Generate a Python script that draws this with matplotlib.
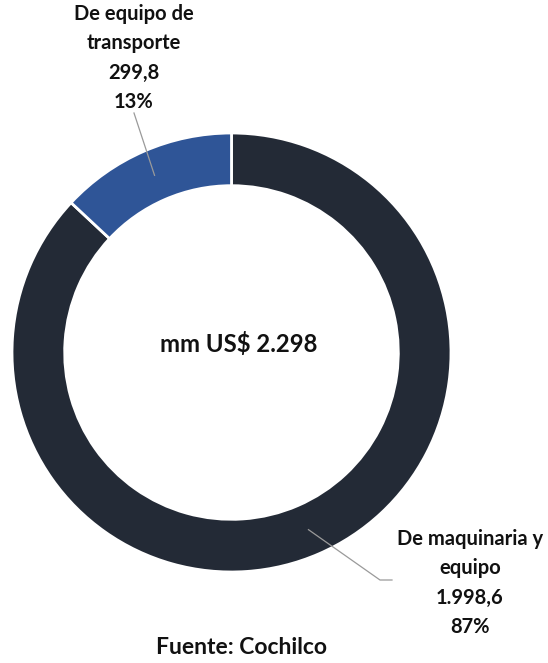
import numpy as np
import matplotlib
matplotlib.use('Agg')
import matplotlib.pyplot as plt

# Data
categories = ['De maquinaria y\nequipo', 'De equipo de\ntransporte']
values = [1998.6, 299.8]
value_labels = ['1.998,6', '299,8']
pct_labels = ['87%', '13%']
total_label = 'mm US$ 2.298'
source = 'Fuente: Cochilco'

COLORS = ['#232a36', '#2f5597']
FONT = ['Lato', 'DejaVu Sans']
W, H = 548, 663
CX, CY, R = 231.5, 352.5, 219.5  # donut centre / radius in pixels


def px_to_data(px, py):
    return (px - CX) / R, (CY - py) / R


fig = plt.figure(figsize=(W / 100, H / 100), dpi=100)
ax = fig.add_axes([(CX - R) / W, (H - CY - R) / H, 2 * R / W, 2 * R / H])

ring = 0.24
wedges, _ = ax.pie(values, colors=COLORS, startangle=90, counterclock=False,
                   radius=1, wedgeprops=dict(width=ring, edgecolor='white', linewidth=2))
# pie resets the limits, so set them afterwards
ax.set_xlim(-1, 1)
ax.set_ylim(-1, 1)
ax.axis('off')

# leader lines from the middle of each wedge
mid_r = 1 - ring / 2
anchors = []
for w in wedges:
    ang = np.deg2rad((w.theta1 + w.theta2) / 2)
    anchors.append((mid_r * np.cos(ang), mid_r * np.sin(ang)))

line_kw = dict(color='#9a9a9a', linewidth=0.9)
label_kw = dict(ha='center', va='center', fontsize=14.5, fontweight='bold', family=FONT,
                linespacing=1.6, color='#111111')

# maquinaria
x0, y0 = anchors[0]
ex, ey = px_to_data(380, 580)
fx, fy = px_to_data(392, 580)
ax.plot([x0, ex, fx], [y0, ey, fy], clip_on=False, **line_kw)
tx, ty = px_to_data(470, 583)
ax.text(tx, ty, f'{categories[0]}\n{value_labels[0]}\n{pct_labels[0]}', **label_kw)

# transporte
x1, y1 = anchors[1]
ex, ey = px_to_data(134, 113)
ax.plot([x1, ex], [y1, ey], clip_on=False, **line_kw)
tx, ty = px_to_data(134, 58)
ax.text(tx, ty, f'{categories[1]}\n{value_labels[1]}\n{pct_labels[1]}', **label_kw)

# centre total
tx, ty = px_to_data(239, 344)
ax.text(tx, ty, total_label, ha='center', va='center', fontsize=17.2,
        fontweight='bold', family=FONT, color='#111111')

fig.text(241 / W, 1 - 648 / H, source, ha='center', va='center', fontsize=16.5,
         fontweight='bold', family=FONT, color='#111111')

fig.savefig('out.png', dpi=100)
